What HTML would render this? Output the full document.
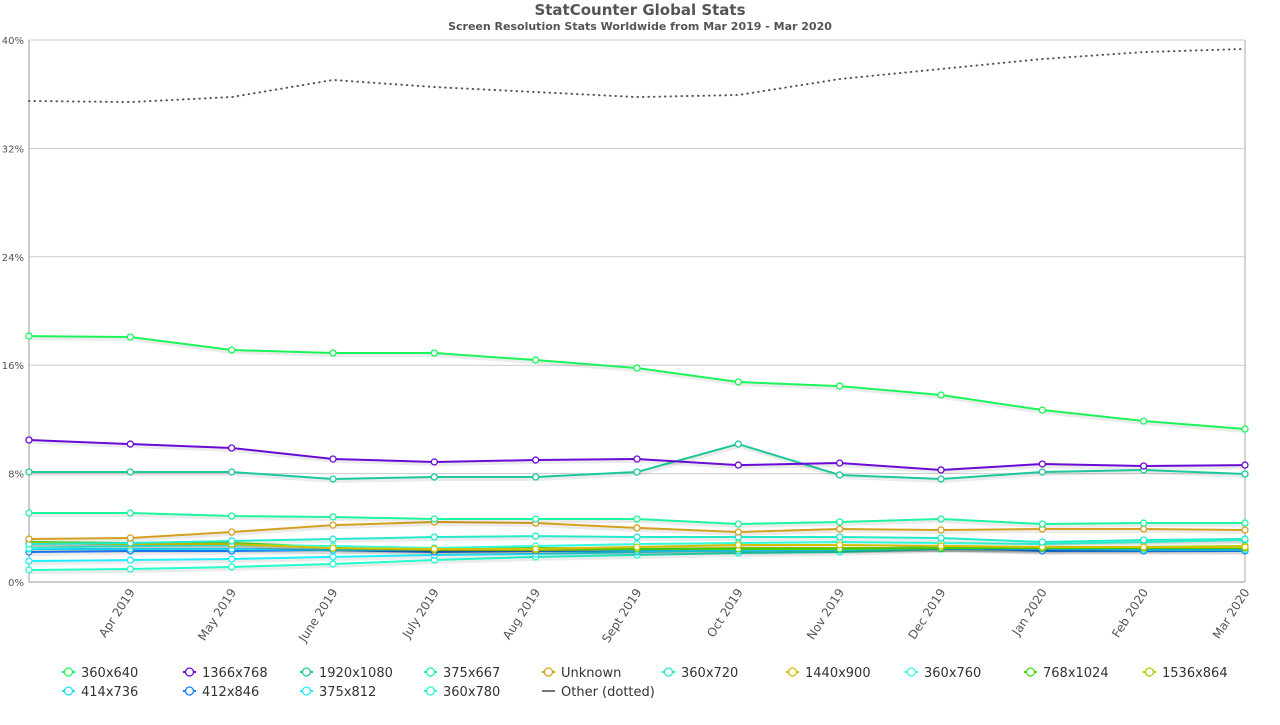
<!DOCTYPE html>
<html><head><meta charset="utf-8"><style>
body{margin:0;background:#fff;}
svg{font-family:"DejaVu Sans","Liberation Sans",sans-serif;}
</style></head><body>
<svg id="c" width="1280" height="720">
<text x="640" y="15" text-anchor="middle" font-size="15" font-weight="bold" fill="#555">StatCounter Global Stats</text>
<text x="640" y="30" text-anchor="middle" font-size="11" font-weight="bold" fill="#555">Screen Resolution Stats Worldwide from Mar 2019 - Mar 2020</text>
<g id="grid"></g><g id="series"></g><g id="legend"></g>
</svg>
<script>
const months=["Mar 2019","Apr 2019","May 2019","June 2019","July 2019","Aug 2019","Sept 2019","Oct 2019","Nov 2019","Dec 2019","Jan 2020","Feb 2020","Mar 2020"];
const yTicks=[0,8,16,24,32,40];
const names=["360x640","1366x768","1920x1080","375x667","Unknown","360x720","1440x900","360x760","768x1024","1536x864","414x736","412x846","375x812","360x780","Other (dotted)"];
const colors=["#1cf55a","#6a0ad6","#1ec89c","#1ef5a0","#d4a020","#24eacc","#d4c000","#33ffdd","#44dd11","#aacc00","#22ddff","#1a80ff","#22eeff","#22ffcc","#777"];
const s360x640=[18.15,18.08,17.12,16.9,16.9,16.38,15.79,14.76,14.46,13.8,12.69,11.88,11.29];
const s1366x768=[10.48,10.18,9.89,9.08,8.86,9.0,9.08,8.63,8.78,8.27,8.71,8.56,8.63];
const s1920x1080=[8.12,8.12,8.12,7.6,7.75,7.75,8.12,10.18,7.9,7.6,8.12,8.27,7.97];
const s375x667=[5.09,5.09,4.87,4.8,4.65,4.65,4.65,4.28,4.43,4.65,4.28,4.35,4.35];
const sUnknown=[3.17,3.25,3.69,4.2,4.43,4.35,3.99,3.69,3.91,3.84,3.91,3.91,3.84];
const s360x720=[2.8,2.88,3.03,3.17,3.32,3.39,3.32,3.32,3.32,3.25,2.95,3.1,3.17];
const s1440x900=[2.88,2.8,2.8,2.5,2.44,2.44,2.58,2.73,2.73,2.66,2.58,2.58,2.58];
const s360x760=[2.51,2.66,2.73,2.66,2.51,2.66,2.8,2.88,2.95,2.88,2.8,2.95,3.1];
const s768x1024=[2.95,2.88,2.88,2.58,2.44,2.51,2.44,2.44,2.44,2.51,2.51,2.51,2.51];
const s1536x864=[2.88,2.8,2.8,2.51,2.36,2.36,2.44,2.51,2.51,2.51,2.51,2.58,2.66];
const s414x736=[2.44,2.44,2.44,2.36,2.36,2.36,2.29,2.29,2.36,2.51,2.44,2.36,2.36];
const s412x846=[2.21,2.29,2.29,2.36,2.21,2.29,2.29,2.36,2.44,2.58,2.29,2.29,2.29];
const s375x812=[1.55,1.62,1.7,1.85,1.99,2.07,2.21,2.36,2.44,2.51,2.36,2.44,2.51];
const s360x780=[0.89,0.96,1.11,1.33,1.62,1.85,1.99,2.14,2.21,2.44,2.36,2.44,2.51];
const sOther=[35.5,35.42,35.79,37.05,36.53,36.16,35.79,35.94,37.12,37.86,38.6,39.11,39.34];
const allSeries=[s360x640,s1366x768,s1920x1080,s375x667,sUnknown,s360x720,s1440x900,s360x760,s768x1024,s1536x864,s414x736,s412x846,s375x812,s360x780,sOther];
const NS="http://www.w3.org/2000/svg";
const X0=29,X1=1245,Y0=582,Y1=40;
const xs=i=>X0+(X1-X0)*i/(months.length-1);
const ys=v=>Y0-(Y0-Y1)*v/40;
function mk(t,a,p){const e=document.createElementNS(NS,t);for(const k in a)e.setAttribute(k,a[k]);p.appendChild(e);return e;}
const grid=document.getElementById('grid');
yTicks.forEach(v=>{
 const l=mk('line',{x1:X0,x2:X1,y1:ys(v),y2:ys(v),stroke:v===0?'#999':'#ccc','stroke-width':1},grid);
 
 
 const t=mk('text',{x:24,y:ys(v)+4,'text-anchor':'end','font-size':10,fill:'#555'},grid);
 t.textContent=v+'%';
 
 
});
const ax=mk('line',{x1:X0,x2:X0,y1:Y1,y2:Y0,stroke:'#999'},grid);


const rb=mk('line',{x1:X1,x2:X1,y1:Y1,y2:Y0,stroke:'#aaa'},grid);


months.forEach((m,i)=>{
 if(i===0)return;
 const x=xs(i)+5;
 const t=mk('text',{x:x,y:592,'text-anchor':'end','font-size':12,fill:'#555',transform:`rotate(-57 ${x} 592)`},grid);
 t.textContent=m;
 
 
});
const sg=document.getElementById('series');
for(let k=allSeries.length-1;k>=0;k--){
 const d=allSeries[k];const g=mk('g',{},sg);
 
 
 const pts=d.map((v,i)=>xs(i)+','+ys(v)).join(' ');
 if(k===14){
  mk('polyline',{points:pts,fill:'none',stroke:'#555','stroke-width':2,'stroke-dasharray':'0.5,5','stroke-linecap':'round'},g);
 }else{
  mk('polyline',{points:pts,fill:'none',stroke:'rgba(0,0,0,0.08)','stroke-width':4,transform:'translate(1,2)'},g);
  mk('polyline',{points:pts,fill:'none',stroke:colors[k],'stroke-width':2},g);
  d.forEach((v,i)=>{const c=mk('circle',{cx:xs(i),cy:ys(v),r:3,fill:'#fff',stroke:colors[k],'stroke-width':1.3},g);
   
   });
 }
}
const lg=document.getElementById('legend');
const lx=[62,183,300,424,542,662,786,905,1024,1143];
names.forEach((n,i)=>{
 const x=lx[i%10],y=i<10?672:691;
 const g=mk('g',{},lg);
 
 
 if(i===14){mk('line',{x1:x,x2:x+13,y1:y,y2:y,stroke:'#777','stroke-width':2},g);}
 else{mk('line',{x1:x,x2:x+13,y1:y,y2:y,stroke:colors[i],'stroke-width':2},g);
  mk('circle',{cx:x+6.5,cy:y,r:4,fill:'#fff',stroke:colors[i],'stroke-width':1.3},g);}
 const t=mk('text',{x:x+19,y:y+5,'font-size':13,fill:'#333'},g);t.textContent=n;
});
</script>
</body></html>
